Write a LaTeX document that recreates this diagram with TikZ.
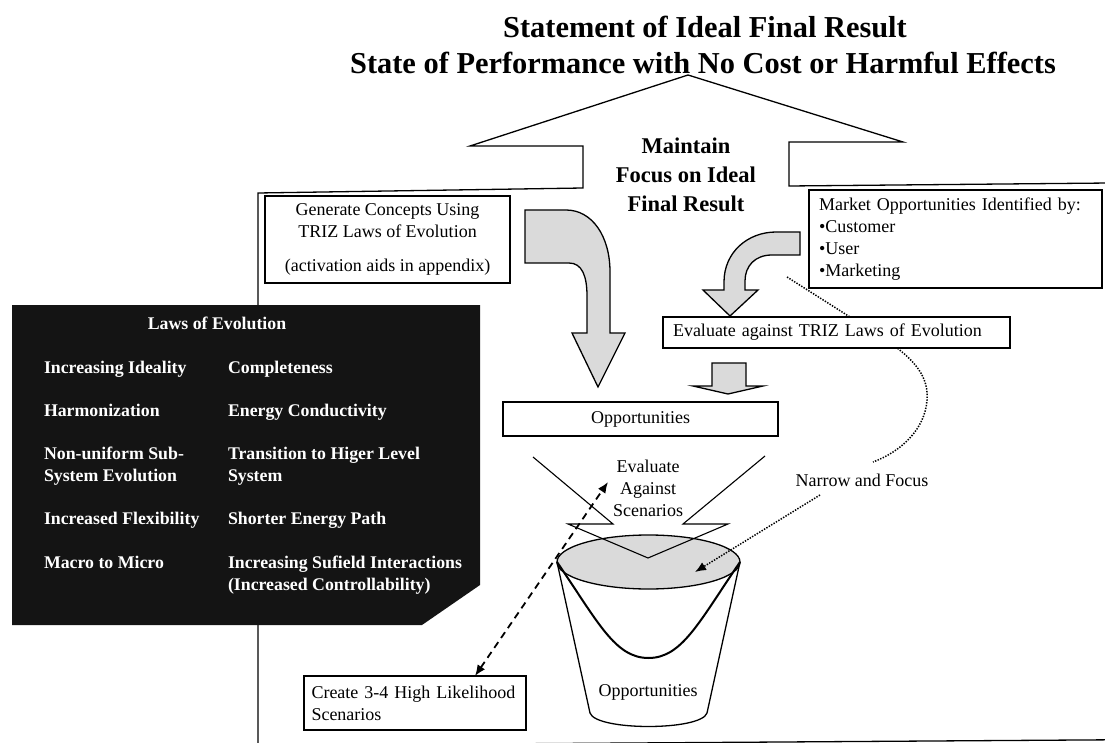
\documentclass[tikz,border=0pt]{standalone}
\usepackage{fontspec}
\setmainfont{Liberation Serif}
\usetikzlibrary{arrows.meta}
\definecolor{panel}{HTML}{141414}
\definecolor{greyfill}{HTML}{DADADA}

\begin{document}
\begin{tikzpicture}[x=1pt,y=-1pt,
  every node/.style={inner sep=0pt,outer sep=0pt},
  body/.style={font=\fontsize{18}{22}\selectfont},
  heading/.style={font=\fontsize{30.4}{33}\selectfont\bfseries},
  framebox/.style={draw,line width=1.3pt,fill=white,body},
  lawtext/.style={font=\fontsize{17.8}{21.5}\selectfont\bfseries,text=white,anchor=base west,align=left},
  outline/.style={draw,line width=1.3pt,line join=miter},
  blockarrow/.style={outline,fill=greyfill},
  dasharrow/.style={line width=1.8pt,dash pattern=on 7pt off 5pt,{Latex[length=11pt,width=9pt]}-{Latex[length=11pt,width=9pt]}},
  dotline/.style={line width=1.5pt,dash pattern=on 1.4pt off 1.4pt},
]
\useasboundingbox (0,0) rectangle (1105,743);

% outer frame with the upward block arrow on top
\draw[outline] (258,748) -- (258,193) -- (583,188) -- (583,146) -- (470,146)
  -- (688,75) -- (903,142) -- (789,142) -- (789,186) -- (1110,183);
\draw[outline] (258,745.5) -- (1110,739.8);

% headline
\node[heading] (title1) at (705,27) {Statement of Ideal Final Result};
\node[heading] (title2) at (703,63) {State of Performance with No Cost or Harmful Effects};

\node[font=\fontsize{22.5}{29}\selectfont\bfseries,align=center] (ifr) at (686,175)
  {Maintain\\Focus on Ideal\\Final Result};

% black panel with the laws (multi-line entries are placed by their last baseline)
\fill[panel] (12,305) -- (480,305) -- (480,585) -- (422,625) -- (12,625) -- cycle;
\node[lawtext,anchor=base] (lawshead) at (217,329) {Laws of Evolution};
\node[lawtext] (law1) at (44,373) {Increasing Ideality};
\node[lawtext] (law2) at (44,416) {Harmonization};
\node[lawtext] (law3) at (44,481) {Non-uniform Sub-\\System Evolution};
\node[lawtext] (law4) at (44,524) {Increased Flexibility};
\node[lawtext] (law5) at (44,568) {Macro to Micro};
\node[lawtext] (law6) at (228,373) {Completeness};
\node[lawtext] (law7) at (228,416) {Energy Conductivity};
\node[lawtext] (law8) at (228,481) {Transition to Higer Level\\System};
\node[lawtext] (law9) at (228,524) {Shorter Energy Path};
\node[lawtext] (law10) at (228,590) {Increasing Sufield Interactions\\(Increased Controllability)};

% text boxes
\node[framebox,minimum width=245,minimum height=87,align=center] (gen) at (387.5,239.5)
  {Generate Concepts Using\\TRIZ Laws of Evolution\\[12pt](activation aids in appendix)};
\node[framebox,text width=273,inner xsep=10,minimum height=98,align=left] (market) at (955.5,239)
  {Market Opportunities Identified by:\\•Customer\\•User\\•Marketing};

% dotted path from the market box down to the label
\coordinate (dotStart) at (787,277);
\coordinate (dotEnd) at (873,462);
\draw[dotline] (dotStart) -- (850,317) .. controls (895,345) and (930,365) .. (927,400)
  .. controls (925,430) and (900,452) .. (dotEnd);

\node[framebox,text width=327,inner xsep=10,minimum height=31,align=left] (evaltriz) at (836.5,332.5)
  {Evaluate against TRIZ Laws of Evolution};
\node[framebox,minimum width=275,minimum height=34] (opps) at (640.5,419) {Opportunities};
\node[framebox,text width=207,inner xsep=7.5,minimum height=54,align=left] (create) at (415,703)
  {Create 3-4 High Likelihood\\Scenarios};

% grey block arrows
\draw[blockarrow] (525,210) -- (566,210) .. controls (592,210) and (610,236) .. (610,272)
  -- (610,333) -- (625,333) -- (598,387) -- (572,333) -- (587,333) -- (587,296)
  .. controls (587,276) and (582,263) .. (569,263) -- (525,263) -- cycle;
\draw[blockarrow] (800,232) -- (776,232) .. controls (748,232) and (724,252) .. (724,282)
  -- (724,290) -- (703,290) -- (730,316) -- (758,290) -- (745,290) -- (745,281)
  .. controls (745,266) and (755,255) .. (772,255) -- (800,255) -- cycle;
\draw[blockarrow] (712,363) -- (746,363) -- (746,386) -- (763,386) -- (728,394)
  -- (693,386) -- (712,386) -- cycle;

% bucket
\fill[greyfill] (648.5,562) ellipse [x radius=91.5pt,y radius=27pt];
\draw[outline] (648.5,562) ellipse [x radius=91.5pt,y radius=27pt];
\draw[outline] (557,562) -- (590,713) .. controls (596,731) and (701,731) .. (707,713) -- (740,562);
\draw[line width=2pt] (557,562) .. controls (598,622) and (615,658) .. (648.5,658)
  .. controls (682,658) and (699,622) .. (740,562);

% narrowing funnel
\draw[outline,line width=1.1pt] (533,457) -- (613,524) -- (568,524) -- (648,558)
  -- (728,524) -- (683,524) -- (765,456);

\node[body,align=center] (scen) at (648,488) {Evaluate\\Against\\Scenarios};
\node[body] (narrow) at (862,480) {Narrow and Focus};
\node[body] (bucket) at (648,692) {Opportunities};

% connectors
\coordinate (scenEnd) at (608,482);
\draw[dasharrow] ([xshift=60pt]create.north) -- (scenEnd);
\coordinate (narrowFrom) at (820,495);
\coordinate (bucketTop) at (695,572);
\draw[dotline,-{Latex[length=11pt,width=9pt]}] (narrowFrom) -- (bucketTop);
\end{tikzpicture}
\end{document}
